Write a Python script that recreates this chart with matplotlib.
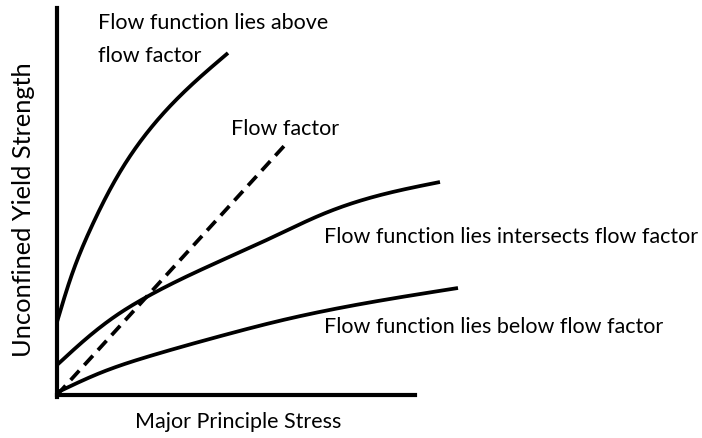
import matplotlib
matplotlib.use("Agg")
import matplotlib.pyplot as plt
import numpy as np

plt.rcParams["font.family"] = ["Lato", "DejaVu Sans"]

# Curve points (x = major principle stress, y = unconfined yield strength)
above_x = [0, 13, 33, 60, 93, 126, 150, 171]
above_y = [73, 115, 165, 218, 266, 302, 324, 342]

cross_x = [0, 30, 60, 86, 150, 216, 266, 316, 383]
cross_y = [30, 57, 80, 96, 128, 158, 181, 198, 213]

below_x = [1, 43, 93, 160, 226, 293, 401]
below_y = [3, 22, 39, 58, 75, 89, 107]

factor_x = [0, 228]
factor_y = [0, 250]


def spline(xs, ys, n=300):
    """Natural cubic spline through the points."""
    x = np.asarray(xs, float)
    y = np.asarray(ys, float)
    k = len(x)
    h = np.diff(x)
    A = np.zeros((k, k))
    b = np.zeros(k)
    A[0, 0] = A[-1, -1] = 1
    for i in range(1, k - 1):
        A[i, i - 1] = h[i - 1]
        A[i, i] = 2 * (h[i - 1] + h[i])
        A[i, i + 1] = h[i]
        b[i] = 6 * ((y[i + 1] - y[i]) / h[i] - (y[i] - y[i - 1]) / h[i - 1])
    M = np.linalg.solve(A, b)
    xx = np.linspace(x[0], x[-1], n)
    idx = np.clip(np.searchsorted(x, xx) - 1, 0, k - 2)
    x0, x1 = x[idx], x[idx + 1]
    hh = h[idx]
    yy = (M[idx] * (x1 - xx) ** 3 / (6 * hh) + M[idx + 1] * (xx - x0) ** 3 / (6 * hh)
          + (y[idx] / hh - M[idx] * hh / 6) * (x1 - xx)
          + (y[idx + 1] / hh - M[idx + 1] * hh / 6) * (xx - x0))
    return xx, yy


fig = plt.figure(figsize=(7.02, 4.38), dpi=100)
ax = fig.add_axes([0, 0, 1, 1])
ax.set_xlim(-57, 645)
ax.set_ylim(-43, 395)

lw = 2.7
for xs, ys in [(above_x, above_y), (cross_x, cross_y), (below_x, below_y)]:
    sx, sy = spline(xs, ys)
    ax.plot(sx, sy, color="black", lw=lw, solid_capstyle="butt")
ax.plot(factor_x, factor_y, color="black", lw=lw, ls=(0, (3.4, 2.0)))

for side in ["top", "right"]:
    ax.spines[side].set_visible(False)
ax.spines["left"].set_position(("data", 0))
ax.spines["bottom"].set_position(("data", 0))
ax.spines["left"].set_bounds(-2, 387)
ax.spines["bottom"].set_bounds(0, 358)
ax.spines["left"].set_linewidth(3)
ax.spines["bottom"].set_linewidth(3)
ax.set_xticks([])
ax.set_yticks([])
ax.patch.set_alpha(0)

fs = 15.5
ax.text(41, 372, "Flow function lies above", fontsize=fs, va="center")
ax.text(41, 339, "flow factor", fontsize=fs, va="center")
ax.text(174, 266, "Flow factor", fontsize=fs, va="center")
ax.text(267, 158, "Flow function lies intersects flow factor", fontsize=fs, va="center")
ax.text(267, 68, "Flow function lies below flow factor", fontsize=fs, va="center")
ax.text(181, -27, "Major Principle Stress", fontsize=fs, ha="center", va="center")
ax.text(-33, 185, "Unconfined Yield Strength", fontsize=18.3, ha="center",
        va="center", rotation=90)

fig.savefig("out.png", dpi=100)
